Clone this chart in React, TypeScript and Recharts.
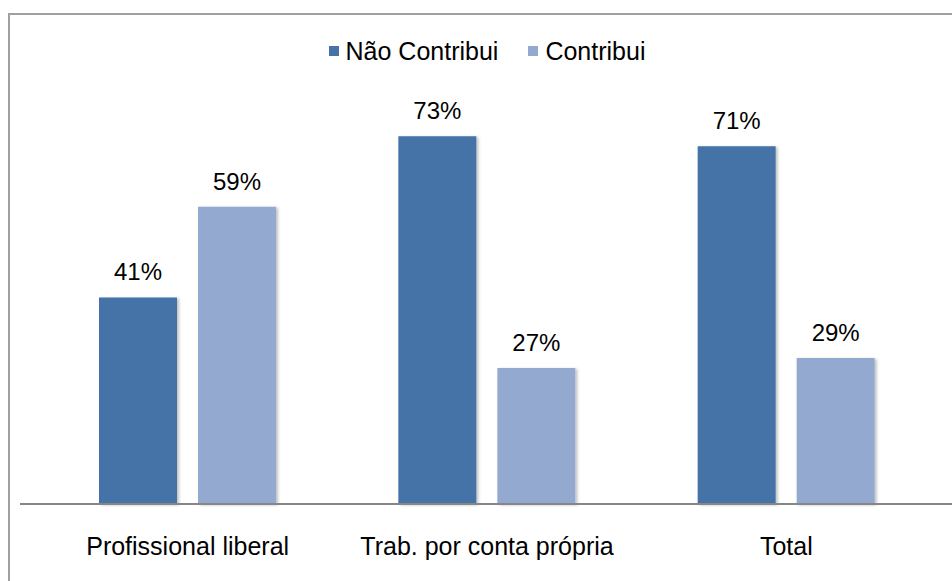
import React from 'react';
import { BarChart, Bar, XAxis, YAxis, LabelList, Legend } from 'recharts';

const categories = ['Profissional liberal', 'Trab. por conta própria', 'Total'];
const naoContribui = [41, 73, 71];
const contribui = [59, 27, 29];

const DARK = '#4572a7';
const LIGHT = '#93a9cf';
const FONT = 'Liberation Sans, Arial, sans-serif';

const chartData = categories.map((name, i) => ({
  name,
  nao: naoContribui[i],
  sim: contribui[i],
}));

const legendItems = [
  { label: 'Não Contribui', color: DARK },
  { label: 'Contribui', color: LIGHT },
];

// Excel-like legend: small squares with black text
const LegendContent = () => (
  <div style={{ display: 'flex', justifyContent: 'center', fontFamily: FONT, fontSize: 25, lineHeight: '26px', color: '#000' }}>
    {legendItems.map((it, i) => (
      <div key={it.label} style={{ display: 'flex', alignItems: 'center', marginLeft: i ? 30 : 0 }}>
        <span style={{ width: 10, height: 10, background: it.color, marginRight: 7, display: 'inline-block' }} />
        <span>{it.label}</span>
      </div>
    ))}
  </div>
);

const pct = (v: any) => `${v}%`;

const App: React.FC = () => {
  return (
    <div style={{ position: 'absolute', left: 0, top: 0, width: 952, height: 581, background: '#fff', overflow: 'hidden' }}>
      <div
        style={{
          position: 'absolute',
          left: 8,
          top: 13,
          width: 980,
          height: 620,
          border: '2px solid #a0a0a0',
          boxSizing: 'border-box',
        }}
      />
      <div style={{ position: 'absolute', left: 0, top: 0 }}>
        <BarChart
          width={952}
          height={581}
          data={chartData}
          margin={{ top: 75, right: 0, bottom: 17, left: 20 }}
          barSize={78}
          barGap={21}
        >
          <defs>
            <filter id="barShadow" x="-10%" y="-10%" width="130%" height="130%">
              <feDropShadow dx="2" dy="1" stdDeviation="1.5" floodColor="#000" floodOpacity="0.25" />
            </filter>
          </defs>
          <Legend
            verticalAlign="top"
            content={<LegendContent />}
            wrapperStyle={{ top: 38, left: 0, width: 952, paddingLeft: 11 }}
          />
          <XAxis
            dataKey="name"
            height={60}
            axisLine={{ stroke: '#868686', strokeWidth: 2 }}
            tickLine={false}
            tickSize={0}
            tickMargin={33}
            padding={{ left: 18, right: 16 }}
            tick={{ fill: '#000', fontSize: 25, fontFamily: FONT }}
            interval={0}
          />
          <YAxis hide domain={[0, 80]} />
          <Bar dataKey="nao" fill={DARK} isAnimationActive={false} filter="url(#barShadow)">
            <LabelList dataKey="nao" position="top" offset={17} formatter={pct} fill="#000" fontSize={24} fontFamily={FONT} />
          </Bar>
          <Bar dataKey="sim" fill={LIGHT} isAnimationActive={false} filter="url(#barShadow)">
            <LabelList dataKey="sim" position="top" offset={17} formatter={pct} fill="#000" fontSize={24} fontFamily={FONT} />
          </Bar>
        </BarChart>
      </div>
    </div>
  );
};

export default App;
